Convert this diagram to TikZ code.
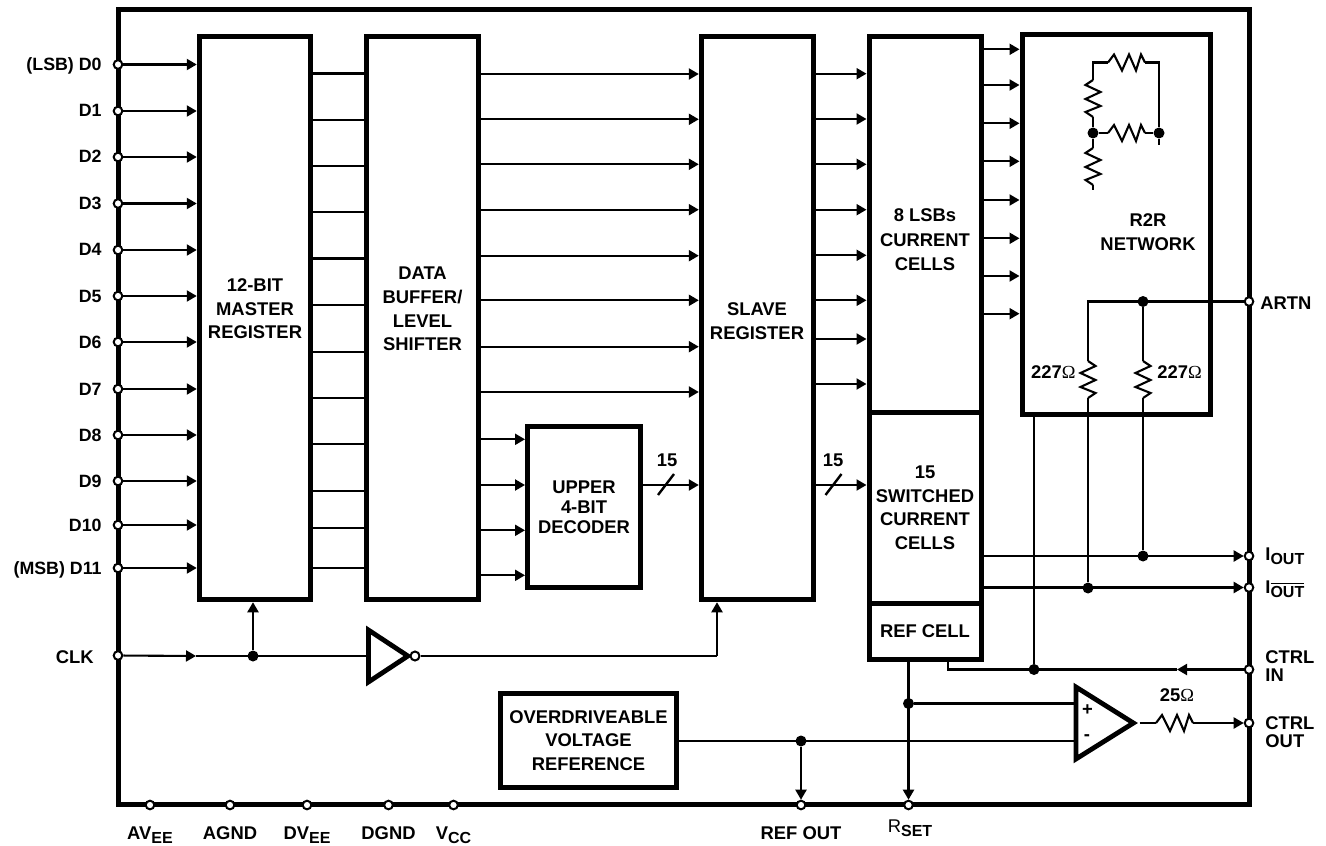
\documentclass[tikz,border=0pt]{standalone}
\usepackage{fontspec}
\setmainfont{Liberation Sans}
\newfontfamily\ohmfont{Liberation Serif}
\usetikzlibrary{shapes.geometric, arrows.meta, positioning}
\newcommand{\ohm}{{\mdseries\ohmfont\char"03A9}}
\newcommand{\subtxt}[1]{\raisebox{-2pt}{\fontsize{8}{8}\selectfont #1}}
\tikzstyle{wire}  = [line width=1.05pt]
\tikzstyle{arrow} = [wire, -{Triangle[length=5pt,width=5.5pt]}]
\tikzstyle{block} = [rectangle, draw, line width=2.5pt, inner sep=0pt]
\tikzstyle{pin}   = [circle, draw, fill=white, line width=1pt, inner sep=0pt, minimum size=4.3pt]
\tikzstyle{dot}   = [circle, fill=black, inner sep=0pt, minimum size=5.5pt]
\tikzstyle{gate}  = [isosceles triangle, isosceles triangle stretches, anchor=lower side, draw, line width=2.4pt, inner sep=0pt, miter limit=10]
\tikzset{every node/.style={align=center, inner sep=0pt, font=\fontsize{9.2}{11.8}\selectfont\bfseries}}
\tikzset{wh/.style 2 args={minimum width=#1*.5pt, minimum height=#2*.5pt}}
\tikzset{
  pics/hres/.style={code={
    \coordinate (-a) at (0,0);
    \coordinate (-b) at (37,0);
    \draw[wire] (-a) -- (6,-8) -- (14,8) -- (21,-8) -- (28,8) -- (33,-8) -- (-b);
  }},
  pics/vres/.style={code={
    \coordinate (-a) at (0,0);
    \coordinate (-b) at (0,37);
    \draw[wire] (-a) -- (-7.5,5) -- (7.5,12) -- (-7.5,19) -- (7.5,26) -- (-7.5,32) -- (-b);
  }}
}

\begin{document}
\begin{tikzpicture}[x=.5pt, y=-.5pt]
    \useasboundingbox (0,0) rectangle (1326,845);

    % blocks
    \node (chip)   at (683.5,407)  [block, wh={1131}{795.5}] {};
    \node (master) at (255,318)    [block, wh={111.5}{563.5}] {};
    \node (buffer) at (422.5,318)  [block, wh={112}{563.5}] {};
    \node (slave)  at (757.3,318)  [block, wh={112}{563.5}] {};
    \node (decode) at (584,507)    [block, wh={113}{160.5}] {UPPER\\[-1.8pt]4-BIT\\[-1.8pt]DECODER};
    \node (lsbs)   at (925,224.5)  [block, wh={112}{375}] {};
    \node (switch) at (925,507.7)  [block, wh={112}{191}] {15\\SWITCHED\\CURRENT\\CELLS};
    \node (ref)    at (925,631)    [block, wh={112}{56}] {REF CELL};
    \node (r2r)    at (1116,224.5) [block, wh={188}{379}] {};
    \node (vref)   at (588.5,740.5)[block, wh={176}{94}] {OVERDRIVEABLE\\VOLTAGE\\REFERENCE};
    \node (inv)    at (366,656)    [gate, wh={52}{39.5}] {};
    \node (amp)    at (1073.5,723) [gate, wh={72}{57.5}] {};

    % block texts
    \node (mastertxt) at (255,309)  {12-BIT\\MASTER\\REGISTER};
    \node (buffertxt) at (422.5,309){DATA\\BUFFER/\\LEVEL\\SHIFTER};
    \node (slavetxt)  at (757,321)  {SLAVE\\REGISTER};
    \node (lsbstxt)   at (925,240)  {8 LSBs\\[.4pt]CURRENT\\[.4pt]CELLS};
    \node (r2rtxt)    at (1148,232) {R2R\\NETWORK};

    % data inputs
    \foreach \i/\y/\t in {0/64.5/(LSB) D0, 1/111/D1, 2/157/D2, 3/203.5/D3, 4/250/D4, 5/296/D5,
                          6/342/D6, 7/389/D7, 8/435/D8, 9/481/D9, 10/525/D10, 11/568/(MSB) D11} {
        \node (d\i) at (118,\y) [pin] {};
        \node (dl\i) at (102,\y+6) [anchor=base east, font=\fontsize{8.9}{11}\selectfont\bfseries] {\t};
        \draw [arrow] (d\i) -- (d\i -| master.west);
    }
    \foreach \y in {73.5,120,166,212,258.5,305,352,398,444,491,528,568}
        \draw [wire] (master.east |- 0,\y) -- (buffer.west |- 0,\y);
    \foreach \y in {74,119.3,164.3,209.7,255.7,300.3,346.7,392}
        \draw [arrow] (buffer.east |- 0,\y) -- (slave.west |- 0,\y);
    \foreach \y in {439.3,485,530.3,575.3}
        \draw [arrow] (buffer.east |- 0,\y) -- (decode.west |- 0,\y);
    \foreach \y in {73.7,119,164.3,209.7,255.3,300.3,339,384}
        \draw [arrow] (slave.east |- 0,\y) -- (lsbs.west |- 0,\y);
    \foreach \y in {49.3,85,123.3,161.3,200,238.3,276,313.7}
        \draw [arrow] (lsbs.east |- 0,\y) -- (r2r.west |- 0,\y);

    % 15 line buses
    \draw [arrow] (decode.east |- 0,485) -- (slave.west |- 0,485);
    \draw [arrow] (slave.east |- 0,485) -- (switch.west |- 0,485);
    \coordinate (busa) at (666,484.5);
    \coordinate (busb) at (833.5,484.5);
    \draw [wire, line width=1.2pt] (busa) +(-8,10.5) -- +(8,-10.5);
    \draw [wire, line width=1.2pt] (busb) +(-8,10.5) -- +(8,-10.5);
    \node (bustxta) at (667,460) {15};
    \node (bustxtb) at (833,460) {15};

    % clock
    \node (clk)   at (118,655.5) [pin] {};
    \node (clktxt) at (94,663)   [anchor=base east] {CLK};
    \node (jclk)  at (253,656)   [dot] {};
    \node (bub)   at (415,656)   [pin, minimum size=4.5pt] {};
    \coordinate (clkmid) at (196,656);
    \coordinate (clkup)  at (717,656);
    \draw [arrow] (clk) -- (clkmid);
    \draw [wire]  (clkmid) -- (inv.west |- clkmid);
    \draw [arrow] (jclk) -- (jclk |- master.south);
    \draw [wire]  (bub) -- (clkup);
    \draw [arrow] (clkup) -- (clkup |- slave.south);

    % R2R sketch
    \pic (rtop)  at (1108,62.5) {hres};
    \pic (rmid)  at (1108,133)  {hres};
    \pic (rleft) at (1093,80)   {vres};
    \pic (rbot)  at (1093,148)  {vres};
    \node (jl) at (1093,133) [dot] {};
    \node (jr) at (1159,133) [dot] {};
    \coordinate (stubl) at (1093,190);
    \coordinate (stubr) at (1159,145);
    \draw [wire] (rleft-a) |- (rtop-a);
    \draw [wire] (rtop-b) -| (jr);
    \draw [wire] (rleft-b) -- (jl) -- (rbot-a);
    \draw [wire] (jl) -- (rmid-a);
    \draw [wire] (rmid-b) -- (jr);
    \draw [wire] (rbot-b) -- (stubl);
    \draw [wire] (jr) -- (stubr);

    % outputs
    \node (artn)    at (1249,301.5) [pin] {};
    \node (iout)    at (1249,556)   [pin] {};
    \node (ioutb)   at (1249,587.5) [pin] {};
    \node (ctrlin)  at (1249,669.5) [pin] {};
    \node (ctrlout) at (1249,723)   [pin] {};
    \node (jartn) at (1143,301.5) [dot] {};
    \node (jiout) at (1143,556)   [dot] {};
    \node (jioutb)at (1088,588)   [dot] {};
    \node (jctrl) at (1034,669.5) [dot] {};
    \coordinate (artnl) at (1088,301.5);
    \pic[xscale=-1] (ra) at (1088,361) {vres};
    \pic[xscale=-1] (rb) at (1143,361) {vres};
    \draw [wire] (artn) -- (artnl) -- (ra-a);
    \draw [wire] (jartn) -- (rb-a);
    \draw [wire] (ra-b) -- (jioutb);
    \draw [wire] (rb-b) -- (jiout);
    \draw [arrow] (switch.east |- iout) -- (iout);
    \draw [arrow] (switch.east |- ioutb) -- (ioutb);
    \draw [wire] (r2r.south -| jctrl) -- (jctrl);
    \node (lra) at (1076,372) [anchor=east] {227\ohm};
    \node (lrb) at (1157,372) [anchor=west] {227\ohm};

    % control loop
    \coordinate (ctrlmid) at (1177,669.5);
    \coordinate (ctrlend) at (948,669.5);
    \draw [arrow] (ctrlin) -- (ctrlmid);
    \draw [wire]  (ctrlmid) -- (ctrlend) -- (ctrlend |- ref.south);
    \node (rset) at (908.5,805) [pin] {};
    \node (jref) at (908.5,703.5) [dot] {};
    \draw [arrow] (ref.south -| rset) -- (rset);
    \draw [wire]  (jref) -- (amp.west |- jref);
    \node (refout) at (801,805) [pin] {};
    \node (jvref)  at (801,741) [dot] {};
    \draw [wire]  (vref.east |- jvref) -- (amp.west |- jvref);
    \draw [arrow] (jvref) -- (refout);
    \node (plus)  at (1087.5,710.5) {+};
    \node (minus) at (1087,738)   {-};
    \pic (rout) at (1156,723) {hres};
    \draw [wire]  (amp.apex) -- (rout-a);
    \draw [arrow] (rout-b) -- (ctrlout);
    \node (rtxt) at (1177,695) {25\ohm};

    % right side pin names
    \node (artntxt)  at (1260,309) [anchor=base west] {ARTN};
    \node (iouttxt)  at (1265,560) [anchor=base west] {I\subtxt{OUT}};
    \node (ioutbtxt) at (1265,593) [anchor=base west] {I\subtxt{$\overline{\hbox{OUT}}$}};
    \node (ctrlitxt) at (1265,666) [anchor=west, align=left] {CTRL\\[-2.6pt]IN};
    \node (ctrlotxt) at (1265,732) [anchor=west, align=left] {CTRL\\[-2.6pt]OUT};

    % supply pins
    \foreach \n/\x/\t in {avee/150/AV\subtxt{EE}, agnd/230/AGND, dvee/307/DV\subtxt{EE}, dgnd/388.5/DGND, vcc/453.5/V\subtxt{CC}} {
        \node (\n) at (\x,805) [pin] {};
        \node (\n txt) at (\x,839) [anchor=base] {\t};
    }
    \node (refouttxt) at (801,839) [anchor=base] {REF OUT};
    \node (rsettxt)   at (910,832) [anchor=base] {{\mdseries R}\subtxt{SET}};
\end{tikzpicture}
\end{document}
